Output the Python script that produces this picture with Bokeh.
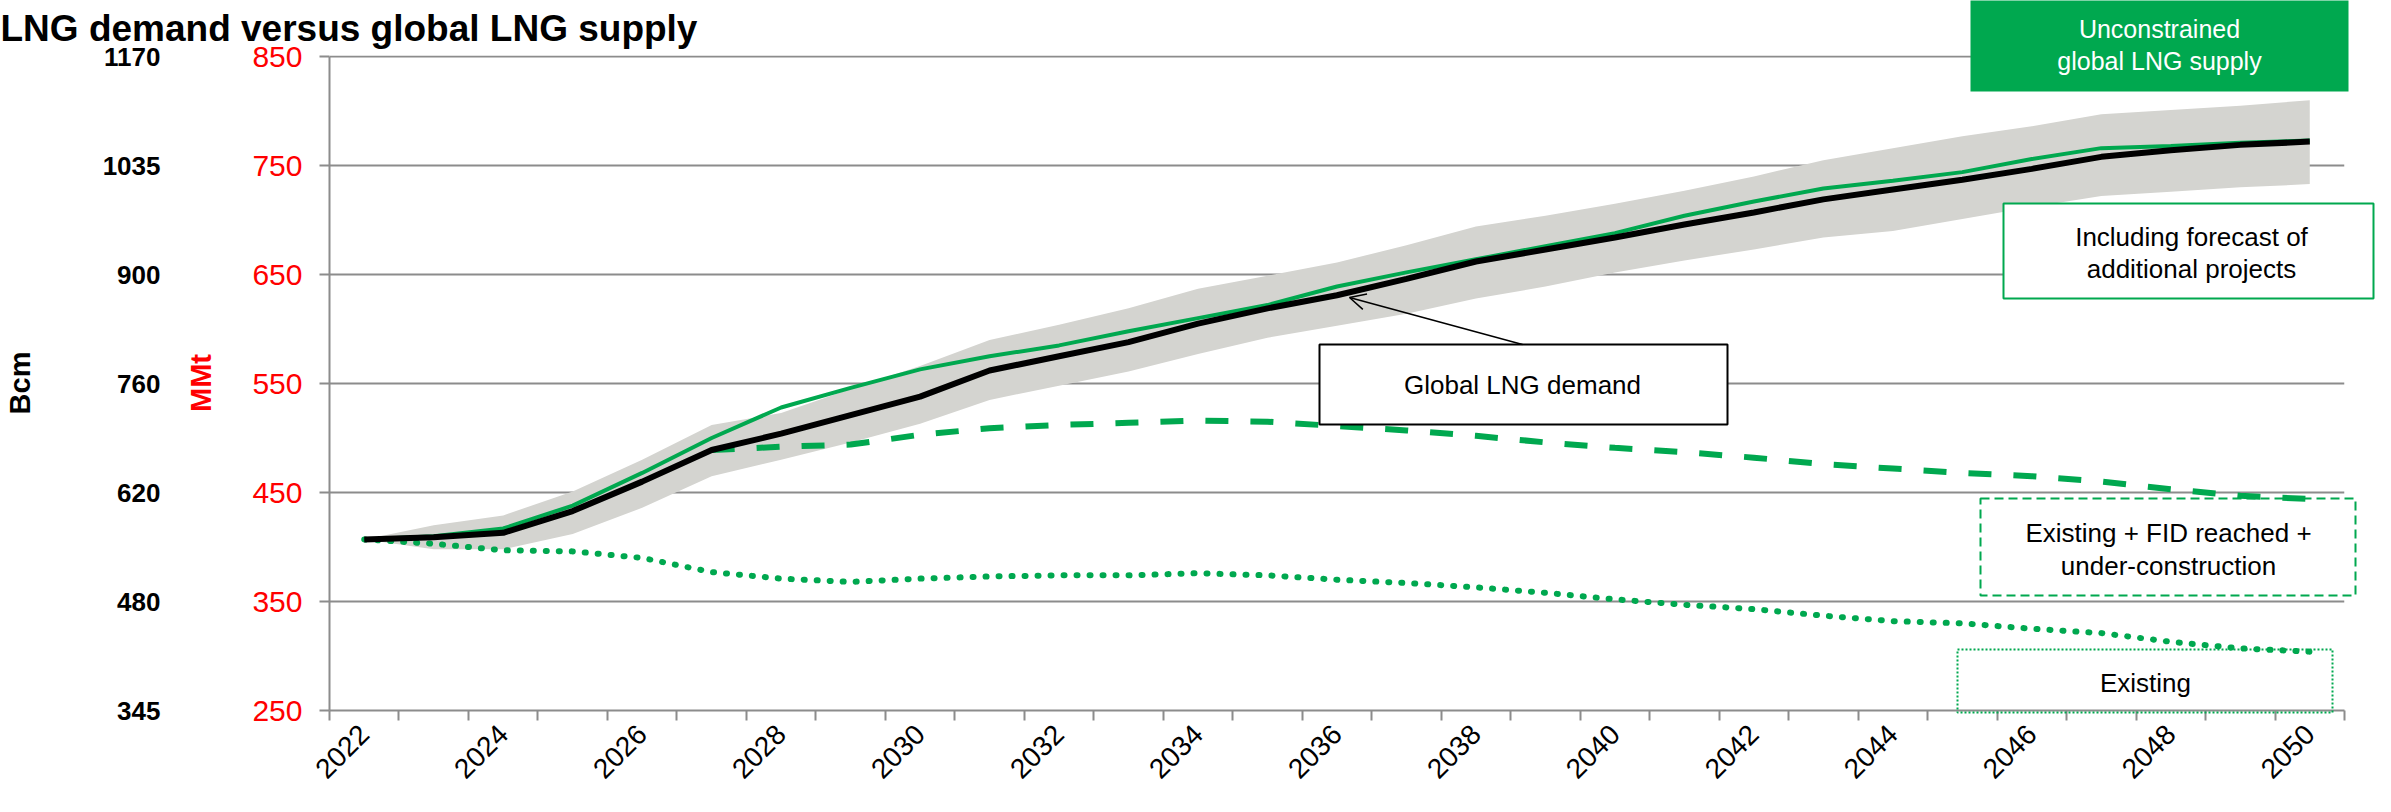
import math
from bokeh.plotting import figure
from bokeh.models import (LinearAxis, FixedTicker, Range1d, BoxAnnotation, Label,
                          Arrow, OpenHead)
from bokeh.embed import file_html
from bokeh.resources import INLINE

# ---------------- data (MMt) ----------------
years = list(range(2022, 2051))

demand = [407, 409, 413, 433, 460, 489, 504, 521, 538, 562, 575, 588, 605, 619, 631,
          646, 662, 673, 684, 696, 707, 719, 728, 737, 747, 758, 764, 769, 772]
demand_high = [407, 420, 429, 451, 480, 512, 523, 545, 566, 590, 604, 619, 637, 649, 661,
               677, 694, 704, 715, 727, 740, 755, 766, 777, 786, 797, 801, 805, 810]
demand_low = [407, 398, 398, 412, 436, 465, 480, 496, 513, 535, 548, 561, 577, 592, 603,
              614, 628, 639, 652, 663, 673, 684, 690, 701, 712, 722, 726, 730, 733]
supply_forecast = [407, 410, 417, 438, 468, 500, 528, 546, 563, 575, 585, 598, 610, 622, 639,
                   652, 664, 676, 688, 704, 717, 729, 736, 744, 756, 766, 768, 771, 773]
nan = float("nan")
supply_fid = [nan, nan, nan, nan, nan, 489, 492, 494, 503, 509, 512, 514, 516, 515, 511,
              507, 502, 496, 491, 487, 482, 476, 472, 468, 465, 460, 453, 447, 444]
supply_existing = [407, 403, 397, 396, 390, 377, 371, 368, 371, 373, 374, 374, 376, 374, 370,
                   367, 363, 358, 352, 347, 343, 337, 332, 330, 325, 321, 313, 307, 304]

mmt_ticks = [250, 350, 450, 550, 650, 750, 850]
bcm_labels = ["345", "480", "620", "760", "900", "1035", "1170"]
label_years = years[::2]

GREEN = "#00A84F"
GRID = "#8C8C8C"
FONT = "Liberation Sans"
W, H = 2375, 796

# ---------------- main chart ----------------
p = figure(width=W, height=H, output_backend="svg", toolbar_location=None,
           x_range=Range1d(2021.5, 2050.5), y_range=Range1d(250, 851),
           x_axis_location=None, y_axis_location=None,
           min_border_left=328, min_border_right=31, min_border_top=55, min_border_bottom=86)
p.outline_line_color = None
p.background_fill_color = "white"
p.border_fill_color = "white"
p.title.visible = False

ax_mmt = LinearAxis(ticker=FixedTicker(ticks=mmt_ticks, minor_ticks=[]), bounds=(250, 850),
                    axis_line_color=GRID, axis_line_width=2,
                    major_tick_line_color=GRID, major_tick_line_width=2,
                    major_tick_out=10, major_tick_in=0, minor_tick_line_color=None,
                    major_label_text_color="#FF0000", major_label_text_font=FONT,
                    major_label_text_font_size="30px", major_label_standoff=17,
                    axis_label="MMt", axis_label_text_color="#FF0000",
                    axis_label_text_font=FONT, axis_label_text_font_style="bold",
                    axis_label_text_font_size="29px", axis_label_standoff=32)
p.add_layout(ax_mmt, "left")

ax_bcm = LinearAxis(ticker=FixedTicker(ticks=mmt_ticks, minor_ticks=[]), bounds=(250, 850),
                    major_label_overrides={t: l for t, l in zip(mmt_ticks, bcm_labels)},
                    axis_line_color=None, major_tick_line_color=None, minor_tick_line_color=None,
                    major_tick_out=0, major_tick_in=0,
                    major_label_text_color="black", major_label_text_font=FONT,
                    major_label_text_font_style="bold", major_label_text_font_size="26px",
                    major_label_standoff=22,
                    axis_label="Bcm", axis_label_text_color="black",
                    axis_label_text_font=FONT, axis_label_text_font_style="bold",
                    axis_label_text_font_size="29px", axis_label_standoff=64)
p.add_layout(ax_bcm, "left")

boundaries = [y - 0.5 for y in years] + [years[-1] + 0.5]
ax_x = LinearAxis(ticker=FixedTicker(ticks=label_years, minor_ticks=boundaries),
                  axis_line_color=GRID, axis_line_width=2,
                  major_tick_out=0, major_tick_in=0, major_tick_line_color=None,
                  minor_tick_out=10, minor_tick_in=0, minor_tick_line_color=GRID,
                  minor_tick_line_width=2,
                  major_label_orientation=math.pi / 4,
                  major_label_text_font=FONT, major_label_text_font_size="28px",
                  major_label_text_color="black", major_label_standoff=9)
p.add_layout(ax_x, "below")

p.ygrid.ticker = FixedTicker(ticks=mmt_ticks)
p.ygrid.grid_line_color = GRID
p.ygrid.grid_line_width = 2
p.xgrid.grid_line_color = None

p.varea(x=years, y1=demand_low, y2=demand_high, fill_color="#D4D4D0", fill_alpha=1)
p.line(years, supply_existing, line_color=GREEN, line_width=6, line_dash="1 12",
       line_cap="round")
p.line(years, supply_fid, line_color=GREEN, line_width=6, line_dash="23 22")
p.line(years, supply_forecast, line_color=GREEN, line_width=4)
p.line(years, demand, line_color="black", line_width=6)

# ---------------- annotation layer (page-pixel coordinates), laid over the chart ----------------
q = figure(width=W, height=H, output_backend="svg", toolbar_location=None,
           x_range=Range1d(8, 8 + W), y_range=Range1d(8 + H, 8),
           x_axis_location=None, y_axis_location=None,
           min_border=0, min_border_left=0, min_border_right=0,
           min_border_top=0, min_border_bottom=0)
q.outline_line_color = None
q.background_fill_alpha = 0
q.border_fill_alpha = 0
q.grid.visible = False
q.title.visible = False
q.margin = (-H, 0, 0, 0)


def box(l, r, t, b, fill=None, line=None, dash="solid"):
    q.add_layout(BoxAnnotation(left=l, right=r, top=t, bottom=b,
                               fill_color=fill if fill else "white",
                               fill_alpha=1 if fill else 0,
                               line_color=line, line_alpha=1, line_width=2,
                               line_dash=dash))


def text(x, y, txt, color="black", size="26px", style="normal", align="center",
         baseline="middle"):
    q.add_layout(Label(x=x, y=y, text=txt, text_color=color, text_font=FONT,
                       text_font_size=size, text_font_style=style, text_align=align,
                       text_baseline=baseline))


box(1978, 2356, 3, 99, fill=GREEN)
text(2167, 36, "Unconstrained", color="white", size="25px")
text(2167, 68, "global LNG supply", color="white", size="25px")

box(2011, 2381, 211, 306, fill="white", line=GREEN)
text(2199, 244, "Including forecast of")
text(2199, 276, "additional projects")

box(1327, 1735, 352, 432, fill="white", line="black")
text(1530, 392, "Global LNG demand")
q.add_layout(Arrow(end=OpenHead(size=16, line_color="black", line_width=1.5),
                   x_start=1530, y_start=352, x_end=1357, y_end=305,
                   line_color="black", line_width=1.5))

box(1988, 2363, 506, 603, line=GREEN, dash="9 5")
text(2176, 540, "Existing + FID reached +")
text(2176, 573, "under-construction")

box(1965, 2340, 657, 720, line=GREEN, dash="2 2")
text(2153, 690, "Existing")

text(8, 36, "LNG demand versus global LNG supply", size="37px", style="bold",
     align="left", baseline="alphabetic")

open("out.html", "w").write(file_html([p, q], INLINE))
